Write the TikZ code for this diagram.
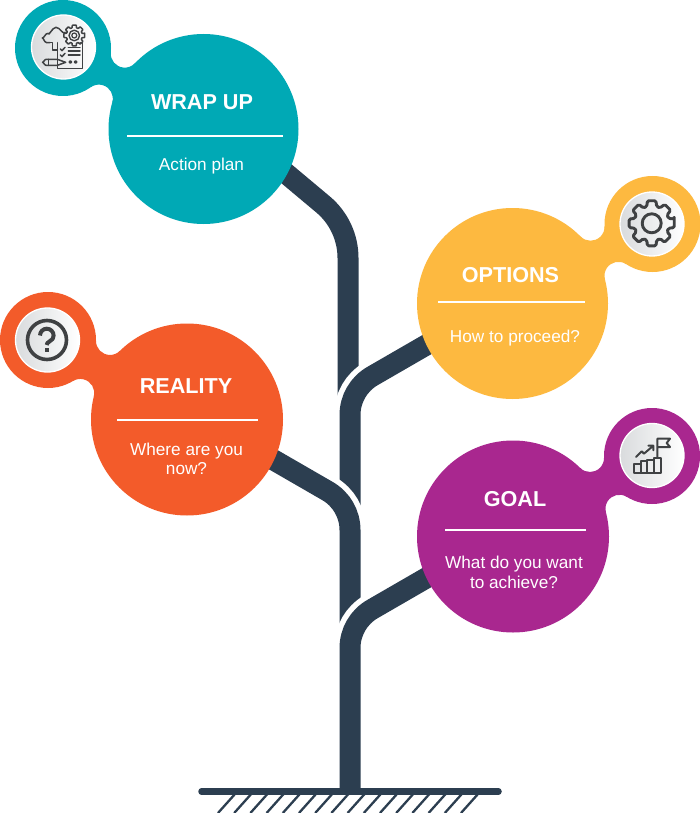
\documentclass[tikz,border=0pt]{standalone}
\usepackage{fontspec}
\setmainfont{Liberation Sans}
\definecolor{tree}{HTML}{2C3E50}
\definecolor{teal}{HTML}{00A9B5}
\definecolor{sun}{HTML}{FDB940}
\definecolor{flame}{HTML}{F35B2A}
\definecolor{plum}{HTML}{A9278F}
\definecolor{ink}{HTML}{3F4143}
\definecolor{disc}{HTML}{D9DBDD}
% colour, x1,y1,r1, x2,y2,r2, fillet radius: neck with concave fillets between two circles
\newcommand{\neckshape}[8]{%
  \pgfmathsetmacro\nDx{#5-#2}\pgfmathsetmacro\nDy{#6-#3}%
  \pgfmathsetmacro\nD{veclen(\nDx,\nDy)}%
  \pgfmathsetmacro\nUx{\nDx/\nD}\pgfmathsetmacro\nUy{\nDy/\nD}%
  \pgfmathsetmacro\nRa{#4+#8}%
  \pgfmathsetmacro\nA{\nD/2+(#4-#7)*(#4+#7+2*#8)/(2*\nD)}%
  \pgfmathsetmacro\nH{sqrt((\nRa-\nA)*(\nRa+\nA))}%
  \pgfmathsetmacro\fAx{#2+\nA*\nUx+\nH*\nUy}\pgfmathsetmacro\fAy{#3+\nA*\nUy-\nH*\nUx}%
  \pgfmathsetmacro\fBx{#2+\nA*\nUx-\nH*\nUy}\pgfmathsetmacro\fBy{#3+\nA*\nUy+\nH*\nUx}%
  \pgfmathsetmacro\aS{atan2(#3-\fAy,#2-\fAx)}\pgfmathsetmacro\aE{atan2(#6-\fAy,#5-\fAx)}%
  \pgfmathsetmacro\aD{\aE-\aS}\pgfmathsetmacro\aD{\aD>180?\aD-360:(\aD<-180?\aD+360:\aD)}%
  \pgfmathsetmacro\bS{atan2(#6-\fBy,#5-\fBx)}\pgfmathsetmacro\bE{atan2(#3-\fBy,#2-\fBx)}%
  \pgfmathsetmacro\bD{\bE-\bS}\pgfmathsetmacro\bD{\bD>180?\bD-360:(\bD<-180?\bD+360:\bD)}%
  \fill[#1] (#2,#3) -- ($(\fAx,\fAy)+(\aS:#8)$) arc[start angle=\aS,delta angle=\aD,radius=#8]
    -- (#5,#6) -- ($(\fBx,\fBy)+(\bS:#8)$) arc[start angle=\bS,delta angle=\bD,radius=#8] -- cycle;
  \fill[#1] (#2,#3) circle[radius=#4];
  \fill[#1] (#5,#6) circle[radius=#7];
}
\newcommand{\gearline}[6]{% cx,cy,outer,root,line width,corner
  \draw[ink,line width=#5,line join=round,rounded corners=#6,shift={(#1,#2)}]
    (-11:#3) \foreach \ga in {0,45,...,315}{ -- (\ga-11:#3) -- (\ga+11:#3) -- (\ga+16:#4) -- (\ga+29:#4)} -- cycle;
}
\usetikzlibrary{calc}
\tikzset{
  trunk/.style={line width=21pt,color=tree},
  trunkcut/.style={line width=32pt,color=white},
  title/.style={anchor=base,text=white,font=\fontsize{21.6}{24}\selectfont\bfseries,inner sep=0pt},
  body/.style={anchor=base,text=white,font=\fontsize{17.2}{20}\selectfont,inner sep=0pt},
  rulewhite/.style={white,line width=2pt},
  iconbase/.style={draw=white,line width=1.3pt,left color=disc,right color=white},
  iconline/.style={ink,line cap=round,line join=round},
}
\begin{document}
\begin{tikzpicture}[x=1pt,y=1pt,yscale=-1]
\useasboundingbox (0,0) rectangle (700,813);
\fill[white] (0,0) rectangle (700,813);
% tree
\draw[trunk] (270,160) -- (323,204.4) arc[start angle=-50,end angle=0,radius=70] -- (348,410);
\draw[trunkcut] (350,510) -- (350,415) arc[start angle=180,end angle=240,radius=45] -- (450,331.25);
\draw[trunk] (350,510) -- (350,415) arc[start angle=180,end angle=240,radius=45] -- (450,331.25);
\draw[trunkcut] (350,630) -- (350,530) arc[start angle=0,end angle=-60,radius=45] -- (240,440.5);
\draw[trunk] (350,630) -- (350,530) arc[start angle=0,end angle=-60,radius=45] -- (240,440.5);
\draw[trunkcut] (350,791) -- (350,648) arc[start angle=180,end angle=240,radius=45] -- (450,564.25);
\draw[trunk] (350,791) -- (350,648) arc[start angle=180,end angle=240,radius=45] -- (450,564.25);
% ground
\draw[tree,line width=6.5pt,line cap=round] (201.5,791.5) -- (498.5,791.5);
\foreach \hx in {0,...,15}{
  \draw[tree,line width=2.3pt] ({235+16.2*\hx},794) -- ({218+16.2*\hx},813);
}
% blobs
\neckshape{teal}{63}{48}{48}{203.5}{129}{95}{14}
\neckshape{sun}{652.5}{224}{48}{512.5}{303.5}{95.5}{14}
\neckshape{flame}{48}{340}{48}{187}{419.5}{96}{14}
\neckshape{plum}{652}{456}{48}{513}{536.5}{96}{14}
% icon discs
\path[iconbase] (63.5,47) circle[radius=32];
\path[iconbase] (652,224) circle[radius=32];
\path[iconbase] (47.5,340) circle[radius=32];
\path[iconbase] (652,455.5) circle[radius=32];
% WRAP UP icon (zoomed coordinates of the 150x110 crop)
\begin{scope}[scale=1/3,iconline,line width=1.5pt]
  \draw (172,128) -- (172,205) -- (247,205) -- (247,128) -- (215,128);
  \draw (150,128) -- (140,128) to[out=180,in=-90] (127,114) to[out=90,in=200] (145,100)
        to[out=90,in=180] (168,82) to[out=0,in=130] (197,97);
  \draw (140,128) -- (158,128) -- (158,150) -- (172,150);
  \draw (181,147) -- (186,152) -- (195,142);
  \draw (181,165) -- (186,170) -- (195,160);
  \draw (205,143) -- (240,143) (205,153) -- (240,153) (205,165) -- (240,165);
  \draw (211,186) circle[radius=3.5] (227,186) circle[radius=3.5];
  \draw (172,178) -- (138,178) to[out=180,in=90] (128,187) to[out=-90,in=180] (138,196) -- (172,196) -- (197,187) -- cycle;
  \draw (145,178) -- (145,196) (172,178) -- (172,196);
\end{scope}
\fill[disc!30!white] (74.3,35.5) circle[radius=9];
\gearline{74.3}{35.5}{10.5}{8}{1.5pt}{0.4pt}
\draw[iconline,line width=1.4pt] (74.3,35.5) circle[radius=5.3];
\draw[iconline,line width=1.2pt] (74.3,35.5) circle[radius=2.5];
% OPTIONS icon
\gearline{651.7}{223.3}{23}{17.5}{2.9pt}{1.5pt}
\draw[iconline,line width=2.9pt] (651.7,223.3) circle[radius=9.5];
% REALITY icon
\draw[iconline,line width=3.6pt] (47,340) circle[radius=19.5];
\draw[iconline,line width=4pt,line cap=butt] (40,335.5) arc[start angle=180,end angle=390,radius=6.8] to[out=120,in=-90] (46.7,345);
\fill[ink] (44.7,347.5) rectangle (48.9,352);
% GOAL icon
\begin{scope}[shift={(620,423)},scale=1/3,iconline,line width=2pt]
  \draw (42,150) rectangle (62,123) (62,150) rectangle (82,115) (82,150) rectangle (102,110) (102,150) rectangle (122,105);
  \draw (112,105) -- (112,47) -- (150,47) -- (140,60) -- (150,72) -- (112,72);
  \draw (48,102) -- (65,85) -- (72,92) -- (100,68) (85,68) -- (100,68) -- (100,82);
\end{scope}
% texts
\node[title] (wrapT) at (202,110) {WRAP UP};
\draw[rulewhite] (127,135.7) -- (283,135.7);
\node[body] (wrapB) at (201.5,171) {Action plan};
\node[title] (optT) at (510.5,282) {OPTIONS};
\draw[rulewhite] (438,302) -- (585,302);
\node[body] (optB) at (515,342) {How to proceed?};
\node[title] (realT) at (186,393) {REALITY};
\draw[rulewhite] (117,420) -- (258,420);
\node[body] (realB) at (186.5,455) {Where are you};
\node[body] (realC) at (186.5,474) {now?};
\node[title] (goalT) at (515,506) {GOAL};
\draw[rulewhite] (445,529.5) -- (586,529.5);
\node[body] (goalB) at (514,568) {What do you want};
\node[body] (goalC) at (514,588) {to achieve?};
\end{tikzpicture}
\end{document}
